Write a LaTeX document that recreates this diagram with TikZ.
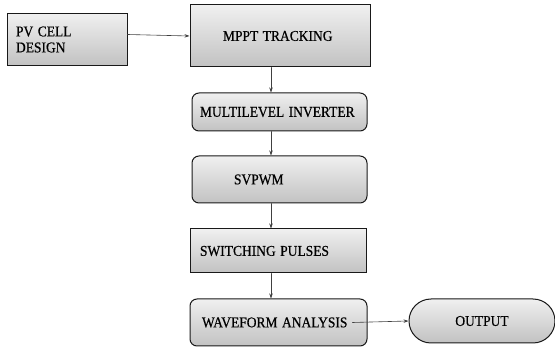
\documentclass[tikz,border=0pt]{standalone}
\usepackage{fontspec}
\setmainfont{Liberation Serif}
\newfontfamily\boxfont{Liberation Serif}[FakeBold=0.5]
\usetikzlibrary{arrows.meta}

% Narrow caps, as in the figure.
\newcommand{\sq}[1]{\scalebox{0.9}[1]{#1}}

\begin{document}
\begin{tikzpicture}[x=1pt, y=-1pt, line width=1pt, line cap=round,
    box/.style={draw=black!90, top color=black!6, bottom color=black!24,
        align=left, text=black, inner ysep=0pt,
        font=\boxfont\fontsize{15}{16}\selectfont},
    roundbox/.style={box, rounded corners=7pt},
    flow/.style={draw=black!75, line width=0.6pt,
        -{Stealth[length=5pt, width=3.5pt]}}]

        \useasboundingbox (0,0) rectangle (555,347);

        % Positions of all of the boxes.
        \coordinate (a) at (67.0, 39.5);
        \coordinate (b) at (280.0, 36.0);
        \coordinate (c) at (279.5, 112.0);
        \coordinate (d) at (279.5, 179.5);
        \coordinate (e) at (278.0, 251.0);
        \coordinate (f) at (278.5, 322.5);
        \coordinate (g) at (482.0, 321.0);
        \coordinate (spine) at (271.0, 0.0);

        % The boxes themselves.
        \node (pv) at (a) [box, minimum height=52pt, text width=102pt,
            inner xsep=9pt] {\sq{PV CELL}\\\sq{DESIGN}};
        \node (mppt) at (b) [box, minimum height=62pt, text width=114pt,
            inner xsep=33pt] {\sq{MPPT TRACKING}};
        \node (inv) at (c) [roundbox, minimum height=38pt, text width=159pt,
            inner xsep=8pt] {\sq{MULTILEVEL INVERTER}};
        \node (svp) at (d) [roundbox, minimum height=47pt, text width=91pt,
            inner xsep=42pt] {\sq{SVPWM}};
        \node (sw) at (e) [box, minimum height=44pt, text width=156pt,
            inner xsep=10pt] {\sq{SWITCHING PULSES}};
        \node (wav) at (f) [roundbox, minimum height=47pt, text width=153pt,
            inner xsep=12pt] {\sq{WAVEFORM ANALYSIS}};
        \node (out) at (g) [box, rounded corners=22pt, minimum height=44pt,
            minimum width=146pt, align=center] {\sq{OUTPUT}};

        % Connect the boxes.
        \draw[flow] ([yshift=5pt]pv.east) -- (mppt.west);
        \draw[flow] (mppt.south -| spine) -- (inv.north -| spine);
        \draw[flow] (inv.south -| spine) -- (svp.north -| spine);
        \draw[flow] (svp.south -| spine) -- (sw.north -| spine);
        \draw[flow] (sw.south -| spine) -- (wav.north -| spine);
        \draw[flow] ([xshift=-15pt]wav.east) -- (out.west);
    \end{tikzpicture}
\end{document}
